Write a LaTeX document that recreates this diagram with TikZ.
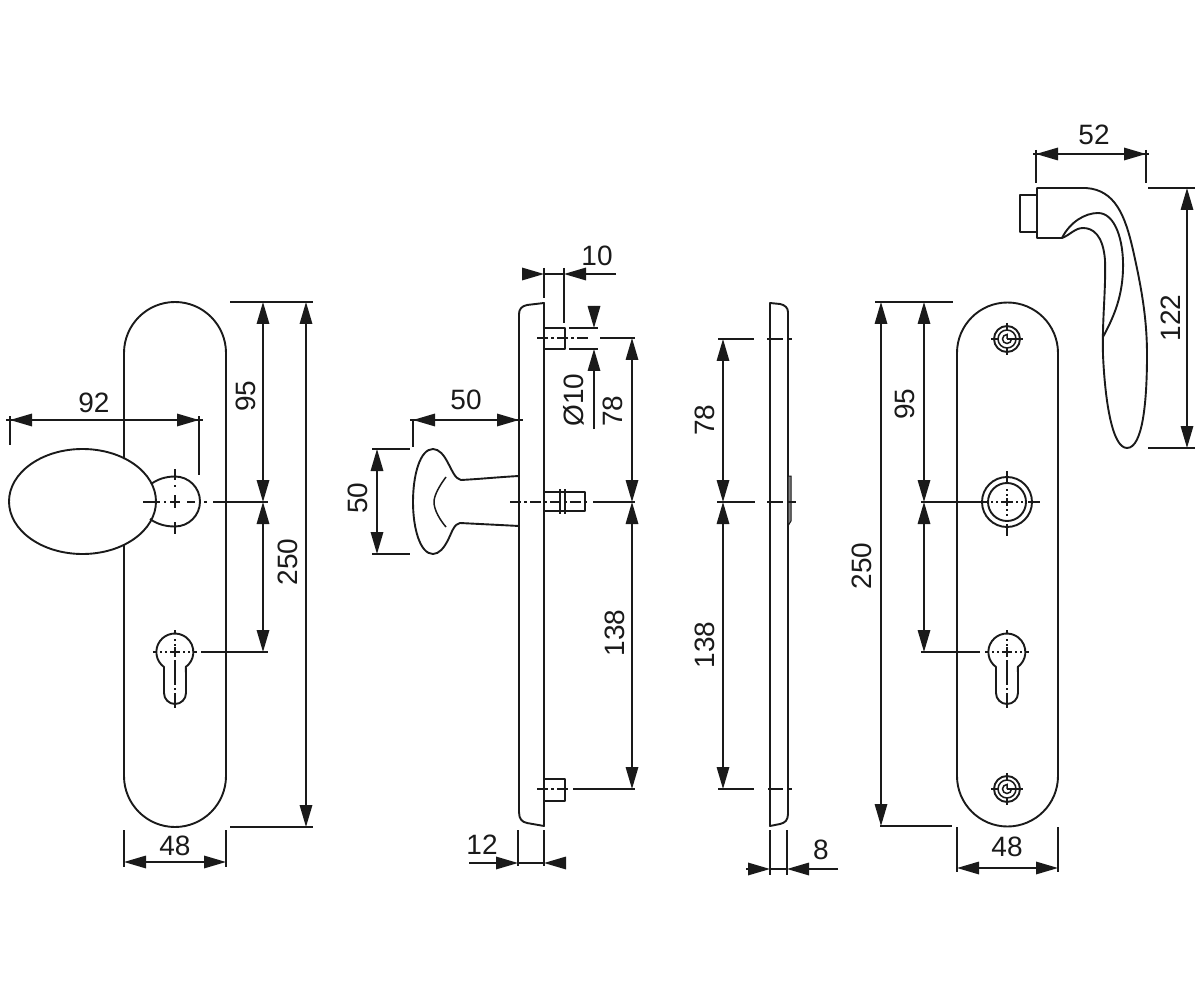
\documentclass[tikz,border=0pt]{standalone}
\usepackage{fontspec}
\setmainfont{Liberation Sans}
\usetikzlibrary{arrows.meta}
\definecolor{ink}{HTML}{1A1A1A}
\tikzset{
  outline/.style={draw=ink,line width=1.9pt,line join=round},
  thin line/.style={draw=ink,line width=1.5pt},
  dimline/.style={draw=ink,line width=1.6pt},
  bothtips/.style={{Triangle[length=22pt,width=12.5pt]}-{Triangle[length=22pt,width=12.5pt]}},
  endtip/.style={-{Triangle[length=22pt,width=12.5pt]}},
  centre/.style={draw=ink,line width=1.5pt,dash pattern=on 11pt off 3pt on 3pt off 3pt},
  leader/.style={draw=ink,line width=2pt},
  lbl/.style={inner sep=0pt,text=ink,font=\fontsize{28}{30}\selectfont},
  vlbl/.style={lbl,rotate=90}
}
\newcommand{\keyholemark}[2]{%
  \draw[outline] (#1-11,#2+15) arc[start angle=126,end angle=414,radius=18.5]
     .. controls (#1+11,#2+19) .. (#1+11,#2+41) arc[start angle=0,end angle=180,radius=11]
     .. controls (#1-11,#2+19) .. cycle;
  \draw[thin line]
    (#1-22,#2) -- (#1-18,#2) (#1-15,#2) -- (#1-13,#2) (#1-10,#2) -- (#1-8,#2) (#1-5,#2) -- (#1+5,#2)
    (#1+8,#2) -- (#1+10,#2) (#1+13,#2) -- (#1+15,#2) (#1+18,#2) -- (#1+22,#2)
    (#1,#2-22) -- (#1,#2-18) (#1,#2-13) -- (#1,#2-11) (#1,#2-8) -- (#1,#2-6) (#1,#2-5) -- (#1,#2+5)
    (#1,#2+8) -- (#1,#2+33) (#1,#2+36) -- (#1,#2+38) (#1,#2+41) -- (#1,#2+56);
}
\newcommand{\screwmark}[2]{%
  \draw[outline] (#1,#2) circle[radius=13];
  \draw[thin line] (#1,#2) circle[radius=9];
  \draw[thin line] (#1+4.5,#2) arc[start angle=0,end angle=270,radius=4.5] -- (#1,#2+0);
  \draw[thin line] (#1,#2) -- (#1+16,#2) (#1-16,#2) -- (#1-9,#2) (#1,#2-16) -- (#1,#2-9) (#1,#2+9) -- (#1,#2+16);
}
\begin{document}
\begin{tikzpicture}[x=1pt,y=-1pt]
\useasboundingbox[fill=white] (0,0) rectangle (1200,1000);

% ---- view 1: knob front ----
\draw[outline] (124,459) -- (124,353) arc[start angle=180,end angle=360,radius=51]
   -- (226,776) arc[start angle=0,end angle=180,radius=51] -- (124,544);
\draw[outline] (82.5,501.5) ellipse[x radius=73.5,y radius=52.5];
\draw[outline] (151,484) .. controls (158,479) and (166,476.5) .. (175,476.5)
   arc[start angle=270,end angle=450,radius=25] .. controls (165,526.5) and (157,524) .. (150,519);
\draw[thin line]
   (143,502) -- (160,502) (164,502) -- (166,502) (170,502) -- (180,502) (187,502) -- (195,502)
   (199,502) -- (201,502) (204,502) -- (207,502)
   (175,469) -- (175,480) (175,485) -- (175,487) (175,495) -- (175,508) (175,522) -- (175,534);
\draw[leader] (213,502) -- (268,502);
\keyholemark{175}{652}
\draw[leader] (201,652) -- (268,652);
% dim 92
\draw[thin line] (10,416) -- (10,445);
\draw[thin line] (199,416) -- (199,475);
\draw[dimline,bothtips] (10,420) -- (199,420);
\draw[dimline] (6,420) -- (203,420);
\node[lbl] (t92) at (94,403) {92};
% dim 95 / 250
\draw[thin line] (230,302) -- (313,302);
\draw[thin line] (230,827) -- (313,827);
\draw[dimline,bothtips] (263,302) -- (263,502);
\draw[dimline,bothtips] (263,502) -- (263,652);
\draw[dimline,bothtips] (306,302) -- (306,827);
\node[vlbl] (t95a) at (246,396) {95};
\node[vlbl] (t250a) at (288,562) {250};
% dim 48
\draw[thin line] (124,830) -- (124,867);
\draw[thin line] (226,830) -- (226,867);
\draw[dimline,bothtips] (124,862) -- (226,862);
\node[lbl] (t48a) at (175,846) {48};

% ---- view 2: knob side ----
\draw[outline] (544,303) -- (527,305) .. controls (522,306) and (519,309) .. (519,314) -- (519,812)
   .. controls (519,819) and (522,822) .. (527,823) -- (544,826) -- cycle;
\draw[outline] (519,476) .. controls (500,477) and (480,479) .. (461,480)
   .. controls (455,479) and (452,470) .. (448,463)
   .. controls (444,455) and (439,449) .. (433,449)
   .. controls (420,449) and (413,475) .. (413,502)
   .. controls (413,528) and (420,554) .. (433,554)
   .. controls (439,554) and (444,548) .. (448,540)
   .. controls (452,532) and (454,524) .. (460,523)
   .. controls (480,524) and (500,525) .. (519,526);
\draw[thin line] (446,477) .. controls (440,485) and (434,495) .. (434,502)
   .. controls (434,510) and (440,520) .. (446,527);
% pins
\draw[outline] (544,328) -- (565,328) -- (565,349) -- (544,349);
\draw[outline] (544,779) -- (565,779) -- (565,801) -- (544,801);
\draw[outline] (544,492) -- (585,492) -- (585,511) -- (544,511);
\draw[thin line] (560,489) -- (560,514) (565,489) -- (565,514);
\draw[centre] (537,338) -- (590,338);
\draw[centre] (537,789) -- (569,789);
\draw[centre] (510,502) -- (590,502);
\draw[leader] (600,338) -- (635,338);
\draw[leader] (593,502) -- (635,502);
\draw[leader] (573,789) -- (635,789);
\draw[thin line] (569,328) -- (598,328) (569,349) -- (598,349);
% dim 10
\draw[thin line] (544,268) -- (544,298);
\draw[thin line] (564,268) -- (564,323);
\draw[dimline,endtip] (522,274) -- (544,274);
\draw[dimline,endtip] (616,274) -- (564,274);
\draw[dimline] (544,274) -- (564,274);
\node[lbl] (t10) at (597,256) {10};
% dim dia 10
\draw[dimline,endtip] (594,306) -- (594,328);
\draw[dimline,endtip] (594,429) -- (594,349);
\node[vlbl] (tdia) at (574,400) {Ø10};
% dim 78 / 138
\node[vlbl] (t78a) at (613,411) {78};
\node[vlbl] (t138a) at (615,633) {138};
\draw[dimline,bothtips] (632,338) -- (632,502);
\draw[dimline,bothtips] (632,502) -- (632,789);
% dim 50 horizontal
\draw[thin line] (413,420) -- (413,447);
\draw[dimline,bothtips] (413,420) -- (519,420);
\draw[dimline] (410,420) -- (523,420);
\node[lbl] (t50a) at (466,400) {50};
% dim 50 vertical
\draw[thin line] (372,449) -- (410,449);
\draw[thin line] (372,554) -- (410,554);
\draw[dimline,bothtips] (377,449) -- (377,554);
\node[vlbl] (t50b) at (358,498) {50};
% dim 12
\draw[thin line] (518,830) -- (518,866);
\draw[thin line] (544,830) -- (544,866);
\draw[dimline,endtip] (469,863) -- (518,863);
\draw[dimline,endtip] (565,863) -- (544,863);
\draw[dimline] (518,863) -- (544,863);
\node[lbl] (t12) at (482,845) {12};

% ---- view 3: plate side ----
\draw[outline] (770,303) -- (780,304) .. controls (785,305) and (788,308) .. (788,312)
   -- (788,814) .. controls (788,820) and (785,823) .. (780,824) -- (770,826) -- cycle;
\filldraw[draw=ink,fill=ink!55,line width=1pt] (788,476) -- (791,476) -- (791,521) -- (788,526) -- cycle;
\draw[leader] (718,339) -- (754,339);
\draw[leader] (717,502) -- (755,502);
\draw[leader] (718,789) -- (754,789);
\draw[thin line] (767,339) -- (783,339) (787,339) -- (792,339);
\draw[thin line] (767,502) -- (783,502) (788,502) -- (796,502);
\draw[thin line] (768,789) -- (783,789) (787,789) -- (792,789);
\draw[dimline,bothtips] (723,339) -- (723,502);
\draw[dimline,bothtips] (723,502) -- (723,789);
\node[vlbl] (t78b) at (705,420) {78};
\node[vlbl] (t138b) at (705,645) {138};
% dim 8
\draw[thin line] (770,830) -- (770,875);
\draw[thin line] (787,830) -- (787,875);
\draw[dimline,endtip] (746,869) -- (770,869);
\draw[dimline,endtip] (838,869) -- (787,869);
\draw[dimline] (770,869) -- (787,869);
\node[lbl] (t8) at (821,850) {8};

% ---- view 4: plate back ----
\draw[outline] (957,353) arc[start angle=180,end angle=360,radius=50.5]
   -- (1058,776) arc[start angle=0,end angle=180,radius=50.5] -- cycle;
\screwmark{1007}{339}
\screwmark{1007}{789}
\draw[outline] (1007,502) circle[radius=25];
\draw[outline] (1007,502) circle[radius=19];
\draw[thin line]
   (1007,471) -- (1007,482) (1007,489) -- (1007,491) (1007,494) -- (1007,496) (1007,498) -- (1007,506)
   (1007,509) -- (1007,511) (1007,514) -- (1007,516) (1007,524) -- (1007,536)
   (991,502) -- (993,502) (996,502) -- (998,502) (1001,502) -- (1013,502) (1016,502) -- (1018,502)
   (1021,502) -- (1023,502) (1028,502) -- (1040,502);
\draw[leader] (921,502) -- (987,502);
\keyholemark{1007}{652}
\draw[leader] (921,652) -- (980,652);
% dims
\draw[thin line] (875,302) -- (953,302);
\draw[thin line] (880,826) -- (952,826);
\draw[dimline,bothtips] (881,302) -- (881,826);
\draw[dimline,bothtips] (924,302) -- (924,502);
\draw[dimline,bothtips] (924,502) -- (924,652);
\node[vlbl] (t95b) at (905,404) {95};
\node[vlbl] (t250b) at (862,566) {250};
\draw[thin line] (957,827) -- (957,872);
\draw[thin line] (1058,827) -- (1058,872);
\draw[dimline,bothtips] (957,868) -- (1058,868);
\node[lbl] (t48b) at (1007,847) {48};

% ---- view 5: lever ----
\draw[outline] (1037,188) -- (1086,188) .. controls (1115,190) and (1125,215) .. (1133,250)
   .. controls (1142,290) and (1147,320) .. (1147,355)
   .. controls (1147,400) and (1143,448) .. (1127,448)
   .. controls (1112,448) and (1105,400) .. (1103,355)
   .. controls (1102,320) and (1106,290) .. (1105,260)
   .. controls (1103,235) and (1093,228) .. (1083,228)
   .. controls (1075,228) and (1070,235) .. (1062,238)
   -- (1037,238) -- cycle;
\draw[outline] (1037,195) -- (1020,195) -- (1020,232) -- (1037,232);
\draw[outline] (1062,238) .. controls (1070,222) and (1085,213) .. (1098,213)
   .. controls (1115,213) and (1124,240) .. (1123,270)
   .. controls (1122,300) and (1112,320) .. (1103,337);
\draw[thin line] (1036,150) -- (1036,183);
\draw[thin line] (1146,150) -- (1146,183);
\draw[dimline,bothtips] (1036,154) -- (1146,154);
\draw[dimline] (1033,154) -- (1149,154);
\node[lbl] (t52) at (1094,135) {52};
\draw[thin line] (1148,188) -- (1195,188);
\draw[thin line] (1148,448) -- (1195,448);
\draw[dimline,bothtips] (1187,188) -- (1187,448);
\node[vlbl] (t122) at (1171,318) {122};
\end{tikzpicture}
\end{document}
